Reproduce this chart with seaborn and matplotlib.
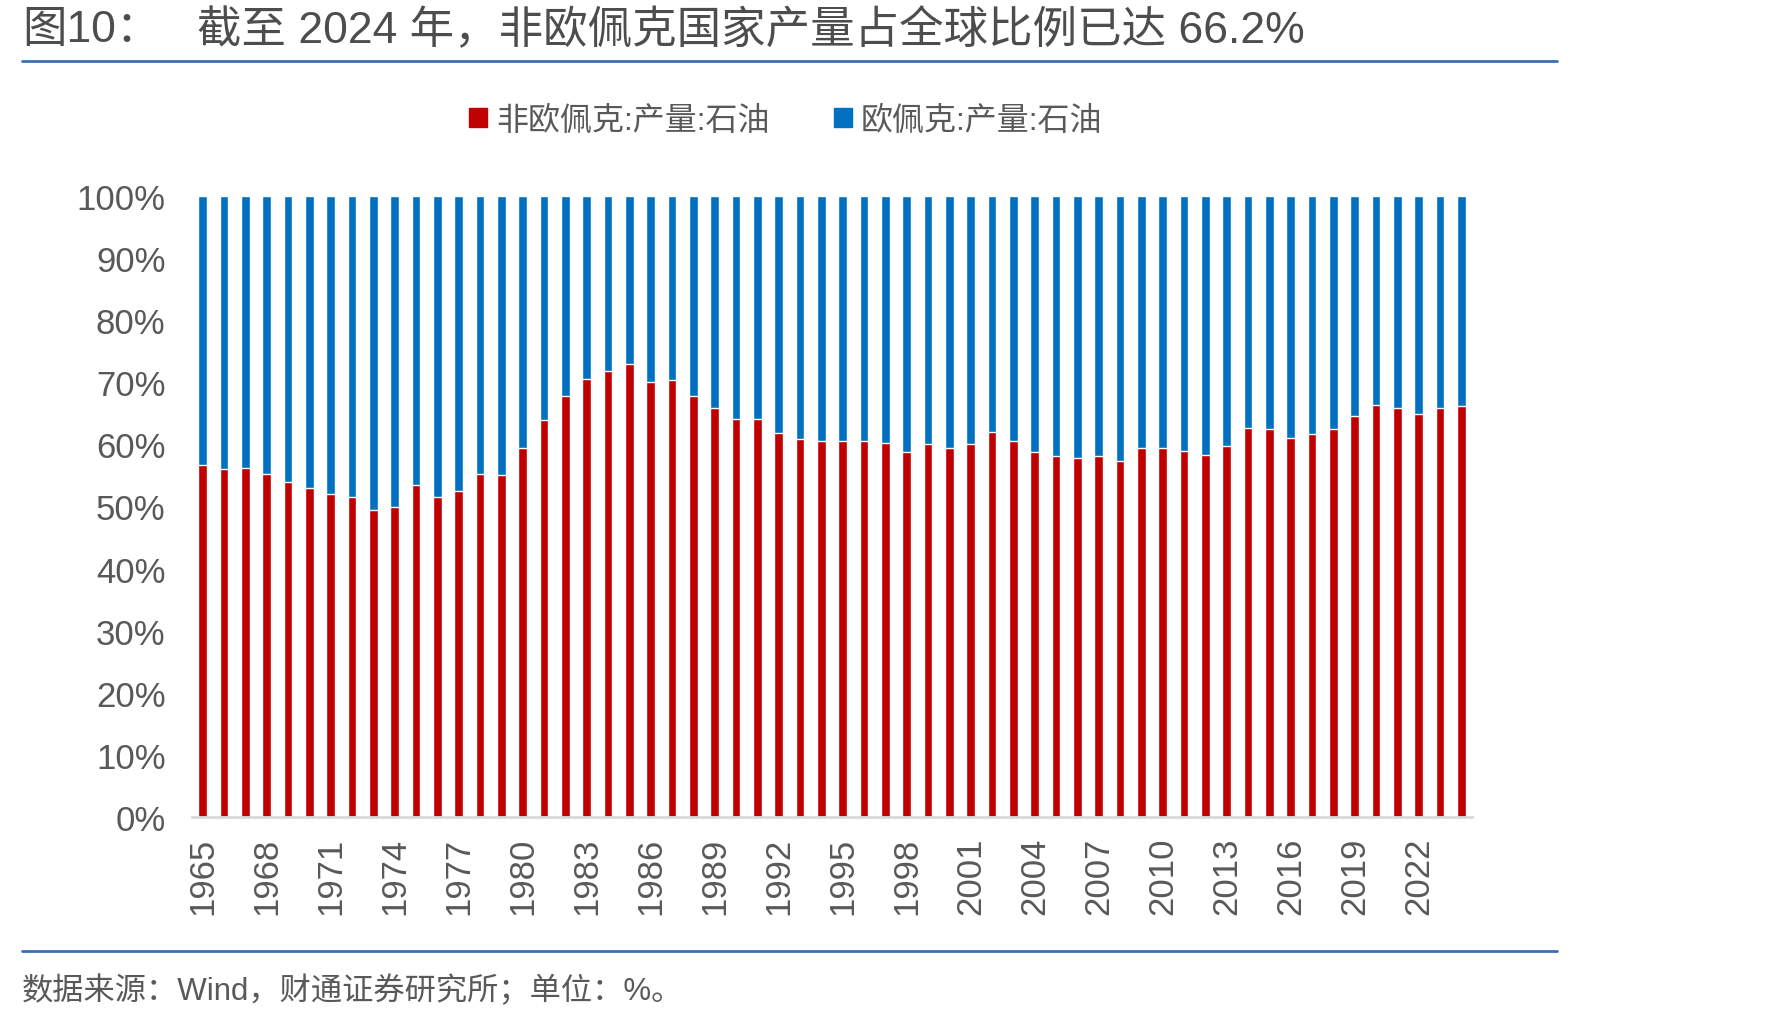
import numpy as np
import pandas as pd
import seaborn as sns
import matplotlib.pyplot as plt
import matplotlib.ticker as tkr
from matplotlib.lines import Line2D
from matplotlib.patches import Patch

# share of world oil output, %
years = list(range(1965, 2025))
non_opec = [56.7, 56.0, 56.2, 55.3, 54.0, 53.0, 52.0, 51.5, 49.5, 50.0,
            53.5, 51.5, 52.5, 55.3, 55.0, 59.4, 63.9, 67.8, 70.6, 71.9,
            72.9, 70.1, 70.4, 67.8, 65.9, 64.1, 64.1, 61.8, 60.8, 60.6,
            60.6, 60.6, 60.3, 58.8, 60.1, 59.4, 60.1, 62.0, 60.6, 58.8,
            58.1, 57.8, 58.1, 57.3, 59.4, 59.4, 59.0, 58.3, 59.8, 62.6,
            62.4, 61.1, 61.6, 62.4, 64.6, 66.4, 65.9, 64.9, 65.9, 66.2]
tick_years = [str(y) for y in range(1965, 2025, 3)]

label_non = "非欧佩克:产量:石油"
label_opec = "欧佩克:产量:石油"

RED = "#C00000"
BLUE = "#0070C0"
GREY = "#595959"
LINE = "#3B6FB6"

df = pd.DataFrame({"year": [str(y) for y in years], "non_opec": non_opec})
df["total"] = 100.0

sns.set_style("white")
plt.rcParams['font.family'] = ['Liberation Sans', 'Noto Sans CJK SC', 'DejaVu Sans']

fig = plt.figure(figsize=(17.69, 10.20), dpi=100)
ax = fig.add_axes([192 / 1769, 202 / 1020, 1280 / 1769, 621 / 1020])

# stacked bars: blue full height underneath, red share on top
sns.barplot(data=df, x="year", y="total", color=BLUE, width=0.4, ax=ax,
            saturation=1, errorbar=None)
sns.barplot(data=df, x="year", y="non_opec", color=RED, width=0.4, ax=ax,
            saturation=1, errorbar=None)

ax.set_xlim(-0.5, len(years) - 0.5)
ax.set_ylim(0, 100)
ax.set(xlabel=None, ylabel=None)
ax.yaxis.set_major_locator(tkr.MultipleLocator(10))
ax.yaxis.set_major_formatter(tkr.PercentFormatter(decimals=0))
ax.tick_params(axis='y', length=0, pad=19, labelsize=25, labelcolor=GREY)

# labels at every third year, tick marks on category edges (excel style)
pos = [years.index(int(t)) for t in tick_years]
ax.set_xticks(pos)
ax.set_xticklabels(tick_years, rotation=90)
ax.tick_params(axis='x', which='major', length=0, pad=14, labelsize=25, labelcolor=GREY)
ax.set_xticks(np.arange(-0.5, len(years), 3), minor=True)
ax.tick_params(axis='x', which='minor', length=10, width=1.5, color="#D9D9D9")

for s in ["top", "right", "left"]:
    ax.spines[s].set_visible(False)
ax.spines["bottom"].set_color("#D9D9D9")
ax.spines["bottom"].set_linewidth(2)

handles = [Patch(color=RED, label=label_non), Patch(color=BLUE, label=label_opec)]
fig.legend(handles=handles, loc="center", bbox_to_anchor=(786 / 1769, 1 - 122 / 1020),
           ncol=2, frameon=False, fontsize=23, labelcolor=GREY,
           handlelength=0.55, handleheight=0.55, handletextpad=0.3, columnspacing=2.0)

# title, rules and source
fig.text(22 / 1769, 1 - 31 / 1020, "图10：", fontsize=32, color="#4d4d4d",
         va="center", ha="left", weight="medium")
fig.text(197 / 1769, 1 - 31 / 1020, "截至 2024 年，非欧佩克国家产量占全球比例已达 66.2%",
         fontsize=32, color="#4d4d4d", va="center", ha="left", weight="medium")
fig.add_artist(Line2D([22 / 1769, 1557 / 1769], [1 - 62 / 1020] * 2, color=LINE, lw=2))
fig.add_artist(Line2D([22 / 1769, 1557 / 1769], [1 - 952 / 1020] * 2, color=LINE, lw=2))
fig.text(22 / 1769, 1 - 991 / 1020, "数据来源：Wind，财通证券研究所；单位：%。",
         fontsize=22.5, color=GREY, va="center", ha="left")

fig.savefig("out.png", dpi=100)
